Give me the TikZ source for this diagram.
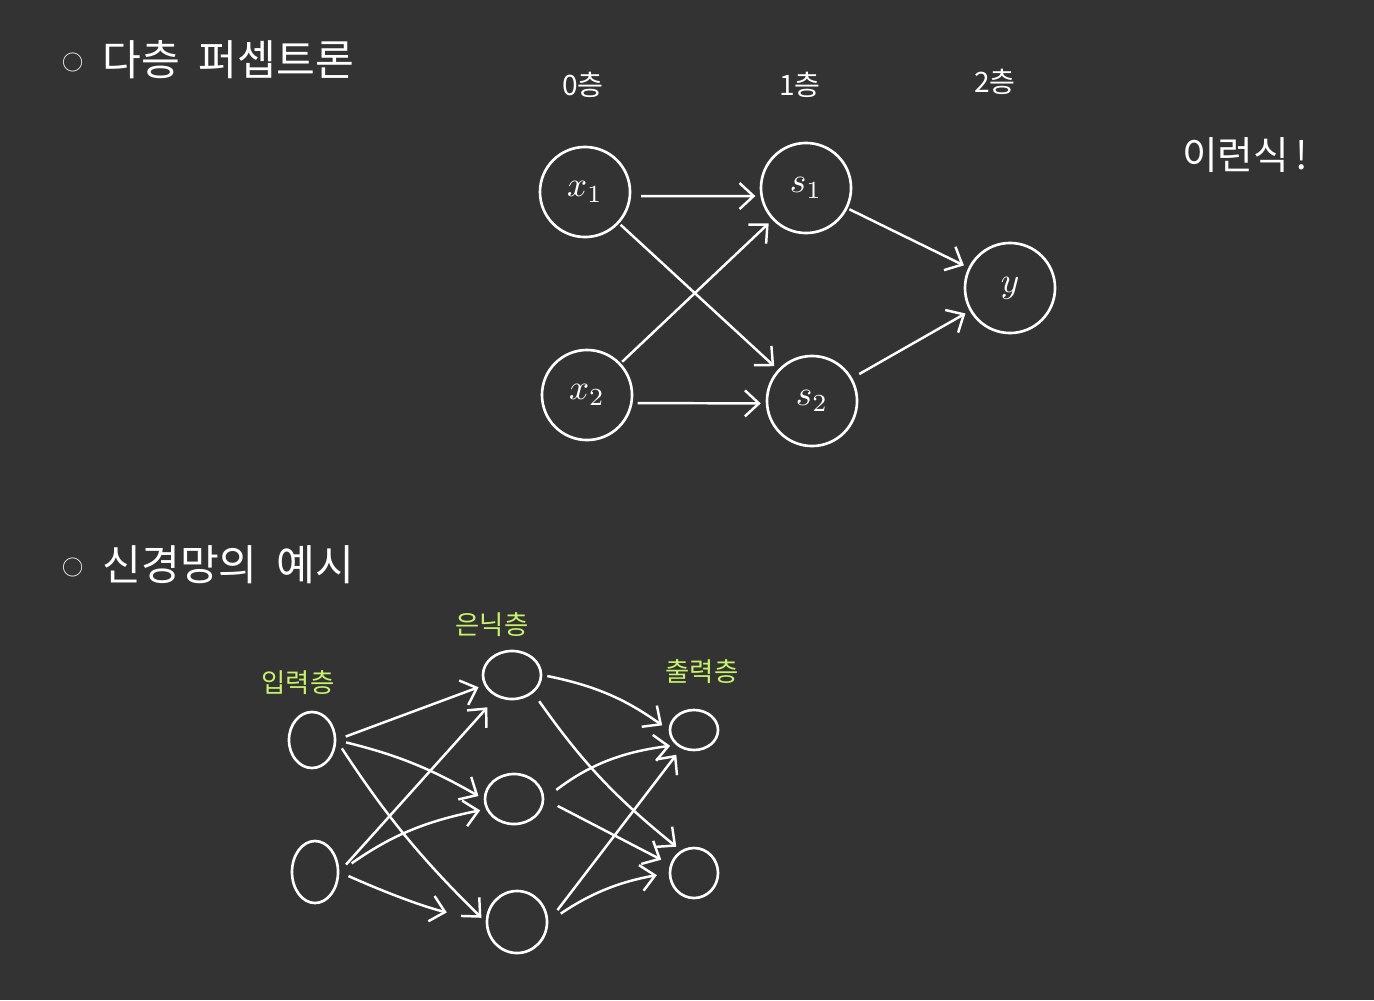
\documentclass[tikz,border=0pt]{standalone}
\usepackage{fontspec}
\usepackage{color}
\usetikzlibrary{arrows.meta,shapes.geometric}
\newfontfamily\kr{Noto Sans CJK KR}
\definecolor{board}{HTML}{333333}
\definecolor{lime}{HTML}{C9F26C}

\begin{document}
\begin{tikzpicture}[x=0.01cm,y=-0.01cm,
  neuron/.style={draw=white, line width=0.75pt, circle, minimum size=0.9cm, inner sep=0pt, text=white},
  blob/.style={draw=white, line width=0.75pt, ellipse, inner sep=0pt},
  wire/.style={draw=white, line width=0.7pt, -{Straight Barb[length=1.4mm,width=2.6mm]}},
  layer/.style={text=white, font=\kr\fontsize{8}{10}\selectfont},
  tag/.style={text=lime, font=\kr\fontsize{7.5}{9}\selectfont}]
\fill[board] (0,0) rectangle (1374,1000);
\useasboundingbox (0,0) rectangle (1374,1000);

\node[anchor=west, text=white, font=\kr\fontsize{12}{14}\selectfont] (title1) at (50,60) {\raisebox{0.25ex}{\fontsize{6}{7}\selectfont ○}\ \ 다층\ \ 퍼셉트론};
\node[anchor=west, text=white, font=\kr\fontsize{12}{14}\selectfont] (title2) at (50,565) {\raisebox{0.25ex}{\fontsize{6}{7}\selectfont ○}\ \ 신경망의\ \ 예시};
\node[text=white, font=\kr\fontsize{11}{13}\selectfont] (note) at (1245,155) {이런식\,!};

% 0층 - 1층 - 2층
\node[layer] (l0) at (583,85) {0층};
\node[layer] (l1) at (800,85) {1층};
\node[layer] (l2) at (995,82) {2층};

\node[neuron] (x1) at (585,192) {$x_1$};
\node[neuron] (x2) at (587,395) {$x_2$};
\node[neuron] (s1) at (806,188) {$s_1$};
\node[neuron] (s2) at (812,401) {$s_2$};
\node[neuron] (y) at (1010,288) {$y$};

\draw[wire, shorten <=0.1cm, shorten >=0.05cm] (x1.-5) -- (s1.-170);
\draw[wire, shorten <=0.02cm, shorten >=0.05cm] (x1) -- (s2);
\draw[wire, shorten <=0.02cm, shorten >=0.05cm] (x2) -- (s1);
\draw[wire, shorten <=0.05cm, shorten >=0.05cm] (x2.-10) -- (s2.-177);
\draw[wire, shorten <=0.02cm, shorten >=0.05cm] (s1) -- (y);
\draw[wire, shorten <=0.08cm, shorten >=0.05cm] (s2) -- (y);

% 예시 신경망
\node[tag] (tin) at (298,683) {입력층};
\node[tag] (thid) at (492,625) {은닉층};
\node[tag] (tout) at (702,672) {출력층};

\node[blob, minimum width=0.46cm, minimum height=0.56cm] (i1) at (312,740) {};
\node[blob, minimum width=0.46cm, minimum height=0.62cm] (i2) at (315,872) {};
\node[blob, minimum width=0.58cm, minimum height=0.48cm] (h1) at (512,675) {};
\node[blob, minimum width=0.58cm, minimum height=0.50cm] (h2) at (514,799) {};
\node[blob, minimum width=0.60cm, minimum height=0.62cm] (h3) at (517,922) {};
\node[blob, minimum width=0.48cm, minimum height=0.40cm] (o1) at (694,730) {};
\node[blob, minimum width=0.48cm, minimum height=0.50cm] (o2) at (694,873) {};

\draw[wire, shorten <=0.1cm, shorten >=0.06cm] (i1.east) to (h1.200);
\draw[wire, shorten <=0.1cm, shorten >=0.06cm] (i1.east) to[bend left=8] (h2.west);
\draw[wire, shorten <=0.1cm, shorten >=0.06cm] (i1.east) to[bend right=6] (h3.west);
\draw[wire, shorten <=0.1cm, shorten >=0.14cm] (i2.east) to (h1.235);
\draw[wire, shorten <=0.15cm, shorten >=0.06cm] (i2.east) to[bend left=12] (h2.200);
\draw[wire, shorten <=0.1cm, shorten >=0.4cm] (i2.east) to[bend right=5] (h3.west);
\draw[wire, shorten <=0.05cm, shorten >=0.08cm] (h1.east) to[bend left=12] (o1.west);
\draw[wire, shorten <=0.10cm, shorten >=0.06cm] (h1.-40) to[bend right=8] (o2.120);
\draw[wire, shorten <=0.15cm, shorten >=0.06cm] (h2.east) to[bend left=15] (o1.220);
\draw[wire, shorten <=0.15cm, shorten >=0.10cm] (h2.east) to (o2.160);
\draw[wire, shorten <=0.15cm, shorten >=0.08cm] (h3.east) to (o1.235);
\draw[wire, shorten <=0.15cm, shorten >=0.12cm] (h3.east) to[bend left=12] (o2.west);
\end{tikzpicture}
\end{document}
